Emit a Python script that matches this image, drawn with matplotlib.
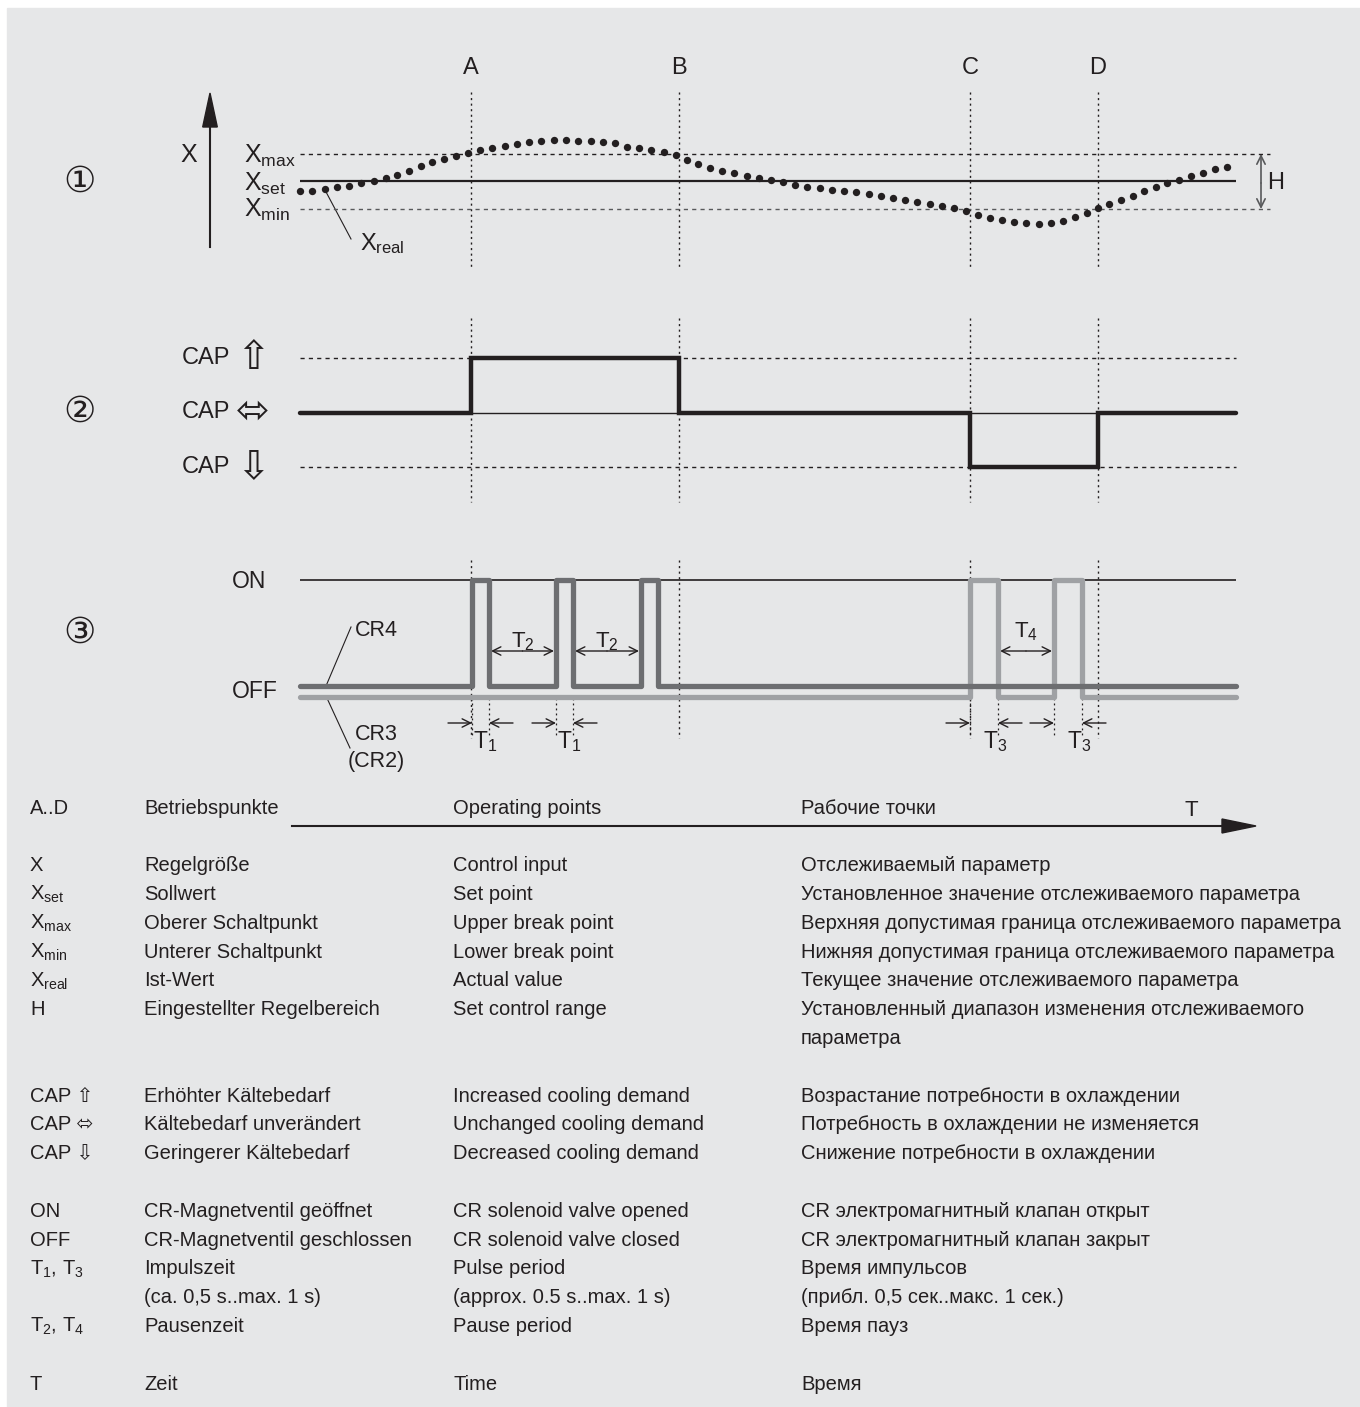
import matplotlib

matplotlib.use("Agg")
import matplotlib.pyplot as plt
from matplotlib.patches import Polygon, Rectangle

plt.rcParams["font.family"] = ["Liberation Sans", "DejaVu Sans", "Noto Sans CJK JP"]
plt.rcParams["mathtext.fontset"] = "custom"
plt.rcParams["mathtext.rm"] = "Liberation Sans"
plt.rcParams["mathtext.it"] = "Liberation Sans:italic"
plt.rcParams["mathtext.bf"] = "Liberation Sans:bold"

INK = "#231f20"
BG = "#e6e7e8"
CR4_COLOR = "#6d6e71"
CR3_COLOR = "#9fa1a4"

# time axis of the diagram (same units across the three panels)
T_START, T_END = 300, 1236
op_times = [471, 679, 970, 1098]
op_labels = ["A", "B", "C", "D"]

# panel 1: actual value X_real relative to X_set (X_max = +1, X_min = -1)
x_real_t = [300, 312, 325, 337, 349, 361, 374, 386, 397, 409, 421, 432, 444, 456, 468,
            480, 492, 505, 517, 529, 541, 554, 566, 578, 591, 603, 615, 627, 639, 651,
            664, 676, 687, 698, 710, 722, 734, 747, 759, 771, 783, 795, 807, 820, 832,
            844, 856, 869, 881, 893, 905, 917, 930, 942, 954, 966, 978, 990, 1002, 1014,
            1026, 1039, 1051, 1063, 1075, 1087, 1098, 1109, 1121, 1133, 1144, 1156, 1167,
            1179, 1191, 1203, 1215, 1227]
x_real_v = [-0.37, -0.34, -0.28, -0.22, -0.16, -0.07, 0.02, 0.12, 0.23, 0.38, 0.55, 0.69,
            0.82, 0.93, 1.04, 1.13, 1.22, 1.30, 1.36, 1.44, 1.48, 1.51, 1.51, 1.48, 1.47,
            1.45, 1.39, 1.27, 1.21, 1.16, 1.08, 0.97, 0.78, 0.62, 0.49, 0.39, 0.29, 0.19,
            0.11, 0.04, -0.04, -0.12, -0.21, -0.26, -0.31, -0.35, -0.39, -0.45, -0.53,
            -0.62, -0.69, -0.77, -0.83, -0.90, -0.98, -1.09, -1.22, -1.33, -1.41, -1.49,
            -1.54, -1.56, -1.54, -1.45, -1.31, -1.15, -0.98, -0.82, -0.67, -0.53, -0.35,
            -0.21, -0.06, 0.06, 0.18, 0.31, 0.44, 0.51]

# panel 2: capacity demand (+1 up, 0 unchanged, -1 down)
cap_times = [300, 471, 679, 970, 1098, 1236]
cap_levels = [0, 1, 0, -1, 0]

# panel 3: valve pulses (start, end)
cr4_pulses = [(472, 489), (556, 573), (641, 658)]
cr3_pulses = [(970, 998), (1054, 1082)]

# legend table
legend_slots = [0, 2, 3, 4, 5, 6, 7, 8, 10, 11, 12, 14, 15, 16, 17, 18, 20]
legend_keys = ["A..D", "X", r"X$_{\mathrm{set}}$", r"X$_{\mathrm{max}}$", r"X$_{\mathrm{min}}$",
               r"X$_{\mathrm{real}}$", "H", "", "CAP ⇧", "CAP ⬄", "CAP ⇩", "ON", "OFF",
               r"T$_1$, T$_3$", "", r"T$_2$, T$_4$", "T"]
legend_de = ["Betriebspunkte", "Regelgröße", "Sollwert", "Oberer Schaltpunkt",
             "Unterer Schaltpunkt", "Ist-Wert", "Eingestellter Regelbereich", "",
             "Erhöhter Kältebedarf", "Kältebedarf unverändert", "Geringerer Kältebedarf",
             "CR-Magnetventil geöffnet", "CR-Magnetventil geschlossen", "Impulszeit",
             "(ca. 0,5 s..max. 1 s)", "Pausenzeit", "Zeit"]
legend_en = ["Operating points", "Control input", "Set point", "Upper break point",
             "Lower break point", "Actual value", "Set control range", "",
             "Increased cooling demand", "Unchanged cooling demand", "Decreased cooling demand",
             "CR solenoid valve opened", "CR solenoid valve closed", "Pulse period",
             "(approx. 0.5 s..max. 1 s)", "Pause period", "Time"]
legend_ru = ["Рабочие точки", "Отслеживаемый параметр",
             "Установленное значение отслеживаемого параметра",
             "Верхняя допустимая граница отслеживаемого параметра",
             "Нижняя допустимая граница отслеживаемого параметра",
             "Текущее значение отслеживаемого параметра",
             "Установленный диапазон изменения отслеживаемого", "параметра",
             "Возрастание потребности в охлаждении", "Потребность в охлаждении не изменяется",
             "Снижение потребности в охлаждении", "CR электромагнитный клапан открыт",
             "CR электромагнитный клапан закрыт", "Время импульсов",
             "(прибл. 0,5 сек..макс. 1 сек.)", "Время пауз", "Время"]

W, H = 1360, 1407
fig = plt.figure(figsize=(13.6, 14.07), dpi=100)
fig.patch.set_facecolor("white")
ax = fig.add_axes([0, 0, 1, 1])
ax.set_xlim(0, W)
ax.set_ylim(H, 0)
ax.axis("off")
ax.add_patch(Rectangle((7, 8), W - 7, H - 8, color=BG, zorder=0))


def panel(p1, v1, p2, v2, top, bottom):
    """Axes spanning pixel rows top..bottom where value v1 sits at p1 and v2 at p2."""
    k = (v1 - v2) / (p2 - p1)
    pan = fig.add_axes([0, 1 - bottom / H, 1, (bottom - top) / H])
    pan.set_xlim(0, W)
    pan.set_ylim(v1 + (p1 - bottom) * k, v1 + (p1 - top) * k)
    pan.axis("off")
    pan.patch.set_alpha(0)
    return pan


def pulse_trace(pulses, base):
    xs, ys = [T_START], [base]
    for a, b in pulses:
        xs += [a, a, b, b]
        ys += [base, 1, 1, base]
    xs.append(T_END)
    ys.append(base)
    return xs, ys


def arrow(x0, y0, x1, y1, lw=1.0, color=INK):
    ax.annotate("", xy=(x1, y1), xytext=(x0, y0),
                arrowprops=dict(arrowstyle="->,head_length=0.6,head_width=0.3",
                                lw=lw, color=color, shrinkA=0, shrinkB=0))


dotted = (0, (1.5, 2.5))
dashed = (0, (3, 3))

# operating point markers
for t, lab in zip(op_times, op_labels):
    ax.text(t, 68, lab, fontsize=17, ha="center", va="center", color=INK)
    for y0, y1 in [(92, 268), (318, 502), (560, 738)]:
        ax.plot([t, t], [y0, y1], color=INK, lw=1.0, ls=dotted)

# ---------------- panel 1 ----------------
ax1 = panel(154, 1.0, 208.7, -1.0, 85, 275)
ax1.hlines(1.0, T_START, 1270, color=INK, lw=1.0, ls=dashed)
ax1.hlines(-1.0, T_START, 1270, color="#58595b", lw=1.0, ls=dashed)
ax1.hlines(0.0, T_START, T_END, color=INK, lw=1.6)
ax1.plot(x_real_t, x_real_v, "o", ms=5.3, color=INK, mec="none")

ax.text(80, 182, "①", fontsize=26, ha="center", va="center", color=INK)
ax.plot([210, 210], [247, 125], color=INK, lw=1.5)
ax.add_patch(Polygon([(202.7, 127), (217.3, 127), (210, 93)], closed=True, color=INK))
ax.text(189, 155, "X", fontsize=18, ha="center", va="center", color=INK)
ax.text(244, 163, r"X$_{\mathrm{max}}$", fontsize=18, va="baseline", color=INK)
ax.text(244, 191, r"X$_{\mathrm{set}}$", fontsize=18, va="baseline", color=INK)
ax.text(244, 217, r"X$_{\mathrm{min}}$", fontsize=18, va="baseline", color=INK)
ax.plot([325, 351], [190, 239], color=INK, lw=0.8)
ax.text(360, 250, r"X$_{\mathrm{real}}$", fontsize=17, va="baseline", color=INK)
arrow(1261, 183, 1261, 154, lw=1.2, color="#58595b")
arrow(1261, 183, 1261, 209, lw=1.2, color="#58595b")
ax.text(1276, 183, "H", fontsize=17, ha="center", va="center", color=INK)

# ---------------- panel 2 ----------------
ax2 = panel(358.3, 1.0, 467.0, -1.0, 300, 520)
ax2.hlines([1.0, -1.0], T_START, T_END, color=INK, lw=1.0, ls=dashed)
ax2.hlines(0.0, T_START, T_END, color=INK, lw=1.0)
ax2.step(cap_times, cap_levels + [cap_levels[-1]], where="post", color=INK, lw=3.2,
         solid_capstyle="round", solid_joinstyle="miter")

ax.text(80, 412, "②", fontsize=26, ha="center", va="center", color=INK)
for y, sym in [(358, "⇧"), (412, "⬄"), (467, "⇩")]:
    ax.text(182, y, "CAP", fontsize=17, va="center", color=INK)
    ax.text(253, y, sym, fontsize=29, ha="center", va="center", color=INK)

# ---------------- panel 3 ----------------
ax3 = panel(580.0, 1.0, 686.0, 0.0, 545, 770)
ax3.hlines(1.0, T_START, T_END, color=INK, lw=1.2)
xs, ys = pulse_trace(cr3_pulses, -0.1)
ax3.plot(xs, ys, color=CR3_COLOR, lw=3.8, solid_capstyle="round", solid_joinstyle="round")
xs, ys = pulse_trace(cr4_pulses, 0.0)
ax3.plot(xs, ys, color=CR4_COLOR, lw=3.8, solid_capstyle="round", solid_joinstyle="round")

ax.text(80, 633, "③", fontsize=26, ha="center", va="center", color=INK)
ax.text(232, 581, "ON", fontsize=16.5, va="center", color=INK)
ax.text(232, 692, "OFF", fontsize=16.5, va="center", color=INK)
ax.plot([326, 351], [686, 627], color=INK, lw=0.8)
ax.text(355, 631, "CR4", fontsize=15.5, va="center", color=INK)
ax.plot([326, 350], [696, 748], color=INK, lw=0.8)
ax.text(355, 735, "CR3", fontsize=15.5, va="center", color=INK)
ax.text(348, 762, "(CR2)", fontsize=15.5, va="center", color=INK)

# pulse widths (T1 / T3)
for pulses, sub, dx in [(cr4_pulses[:2], "1", 1), (cr3_pulses, "3", 13)]:
    for a, b in pulses:
        for e in (a, b):
            ax.plot([e, e], [698, 736], color=INK, lw=0.9, ls=dotted)
        arrow(a - 24, 723, a, 723)
        arrow(b + 24, 723, b, 723)
        ax.text(a + dx, 748, f"T$_{sub}$", fontsize=16.5, va="baseline", color=INK)

# pause widths (T2 / T4)
for pulses, sub, y_lab in [(cr4_pulses, "2", 647), (cr3_pulses, "4", 637)]:
    for (a0, b0), (a1, b1) in zip(pulses[:-1], pulses[1:]):
        arrow((b0 + a1) / 2, 651, b0 + 2, 651)
        arrow((b0 + a1) / 2, 651, a1 - 2, 651)
        ax.text((b0 + a1) / 2, y_lab, f"T$_{sub}$", fontsize=16, ha="center",
                va="baseline", color=INK)

# ---------------- legend ----------------
ax.plot([292, 1222], [826, 826], color=INK, lw=1.5)
ax.add_patch(Polygon([(1222, 819), (1222, 833), (1256, 826)], closed=True, color=INK))
ax.text(1191, 810, "T", fontsize=16, ha="center", va="center", color=INK)

for slot, key, de, en, ru in zip(legend_slots, legend_keys, legend_de, legend_en, legend_ru):
    y = 813.5 + slot * 28.8
    for x, s in [(30, key), (144, de), (453, en), (801, ru)]:
        if s:
            ax.text(x, y, s, fontsize=14.5, va="baseline", color=INK)

fig.savefig("out.png", dpi=100, facecolor=fig.get_facecolor())
plt.close(fig)
